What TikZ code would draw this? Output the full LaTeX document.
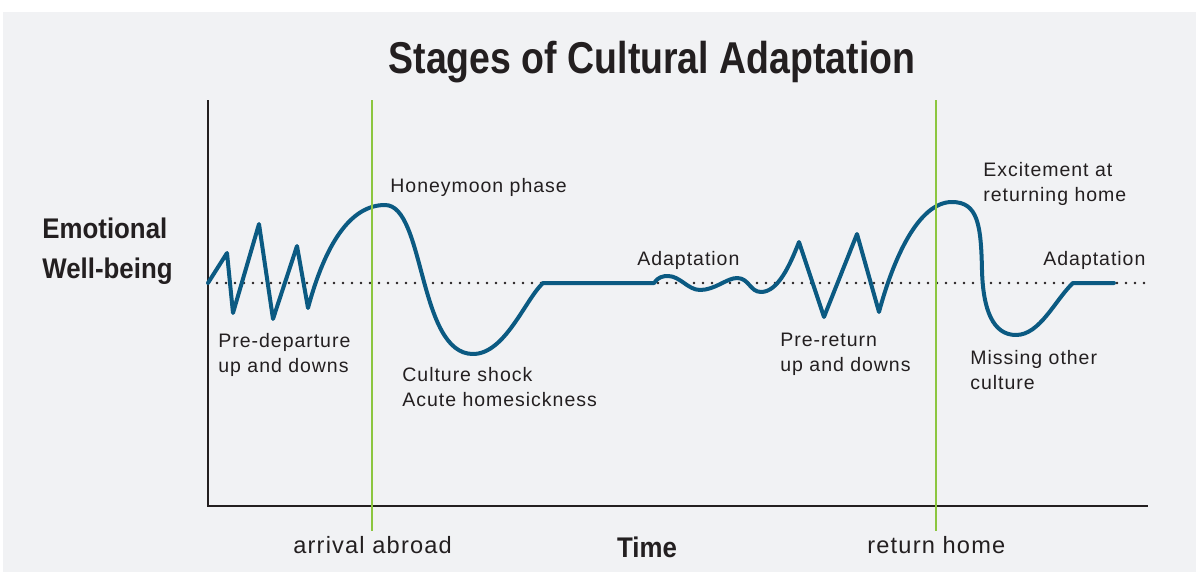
\documentclass[tikz,border=0pt]{standalone}
\usepackage{fontspec}
\setmainfont{Liberation Sans}
\newfontfamily\labelfont[LetterSpace=5]{Liberation Sans}
\newfontfamily\titlefont[FakeStretch=0.84]{Liberation Sans}
\newfontfamily\axisfont[FakeStretch=0.91]{Liberation Sans}

\definecolor{panel}{HTML}{F1F2F4}
\definecolor{ink}{HTML}{231F20}
\definecolor{wave}{HTML}{0B5A82}
\definecolor{guide}{HTML}{8CC63F}

\tikzset{
  wavecurve/.style={draw=wave, line width=2pt, line join=round, line cap=round},
  guideline/.style={draw=guide, line width=1.1pt},
  axisline/.style={draw=ink, line width=1.3pt},
  dotline/.style={draw=ink, line width=1.4pt, line cap=round, dash pattern=on 0pt off 4.5pt},
  stagelabel/.style={anchor=base west, inner sep=0pt, align=left, text=ink,
    font=\labelfont\fontsize{9.75}{12.5}\selectfont},
  ticklabel/.style={anchor=base west, inner sep=0pt, text=ink,
    font=\labelfont\fontsize{11.8}{14}\selectfont},
  axislabel/.style={inner sep=0pt, align=left, text=ink,
    font=\axisfont\bfseries\fontsize{14.2}{20}\selectfont}
}

\begin{document}
\begin{tikzpicture}[x=0.5pt, y=-0.5pt]
  % Canvas: one unit is one pixel of the reference
  \useasboundingbox (0,0) rectangle (1196,573);
  \fill[white] (0,0) rectangle (1196,573);
  \fill[panel] (3,12) rectangle (1196,572);

  % Key coordinates
  \coordinate (O) at (208,506);    % origin of the axes
  \coordinate (YT) at (208,100);   % top of the vertical axis
  \coordinate (XE) at (1148,506);  % end of the time axis
  \coordinate (BL) at (208,283);   % start of the baseline
  \coordinate (BE) at (1148,283);  % end of the baseline
  \coordinate (AT) at (372,100);   % arrival abroad, top
  \coordinate (AB) at (372,531);   % arrival abroad, bottom
  \coordinate (RT) at (936,100);   % return home, top
  \coordinate (RB) at (936,531);   % return home, bottom

  % Title
  \node[anchor=base, inner sep=0pt, text=ink,
    font=\titlefont\bfseries\fontsize{22.3}{26}\selectfont] (title) at (652,74)
    {Stages of Cultural Adaptation};

  % Axes and the dotted baseline
  \draw[axisline] (YT) -- (O) -- (XE);
  \draw[dotline] (BL) -- (BE);

  % The emotional curve
  \draw[wavecurve] (BL) -- (227,253) -- (233,313) -- (259,224) -- (273,319) -- (297,246) -- (308,308)
    .. controls (325,245) and (350,205) .. (385,205)   % honeymoon
    .. controls (425,205) and (418,354) .. (473,354)   % culture shock
    .. controls (505,354) and (525,300) .. (543,283)
    -- (654,283)                                       % adaptation
    .. controls (658,277) and (663,276) .. (668,276)
    .. controls (680,276) and (688,290) .. (700,290)
    .. controls (715,290) and (727,278) .. (737,278)
    .. controls (749,278) and (750,292) .. (761,292)
    .. controls (778,292) and (790,265) .. (799,242)
    -- (824,317) -- (857,234) -- (879,312)             % pre-return
    .. controls (893,260) and (918,202) .. (952,202)   % excitement
    .. controls (978,202) and (981,225) .. (982,270)
    .. controls (983,310) and (993,335) .. (1016,335)  % missing other culture
    .. controls (1040,335) and (1055,300) .. (1073,283)
    -- (1114,283);

  % Arrival and return markers
  \draw[guideline] (AT) -- (AB);
  \draw[guideline] (RT) -- (RB);

  % Stage labels (a two-line label sits on the baseline of its last line)
  \node[stagelabel] (honeymoon) at (390,192) {Honeymoon phase};
  \node[stagelabel] (predep) at (218,372) {Pre-departure\\up and downs};
  \node[stagelabel] (shock) at (402,406) {Culture shock\\Acute homesickness};
  \node[stagelabel] (adapt) at (637,265) {Adaptation};
  \node[stagelabel] (preret) at (780,371) {Pre-return\\up and downs};
  \node[stagelabel] (excite) at (983,201) {Excitement at\\returning home};
  \node[stagelabel] (readapt) at (1043,265) {Adaptation};
  \node[stagelabel] (missing) at (970,389) {Missing other\\culture};

  % Axis labels
  \node[axislabel, anchor=base west] (wellbeing) at (42,278) {Emotional\\Well-being};
  \node[axislabel, anchor=base] (time) at (647,557) {Time};
  \node[ticklabel] (arrival) at (293,553) {arrival abroad};
  \node[ticklabel] (returnhome) at (867,553) {return home};
\end{tikzpicture}
\end{document}
